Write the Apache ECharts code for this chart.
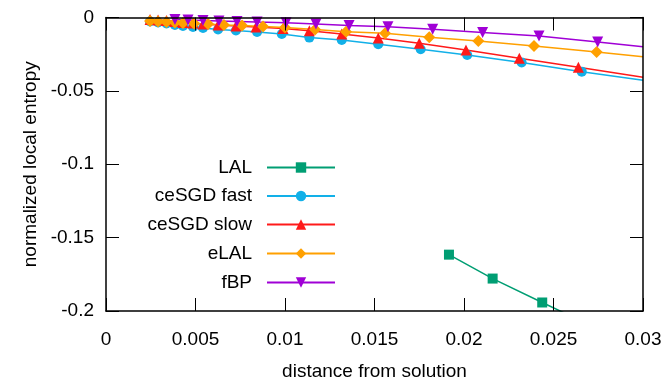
<!DOCTYPE html>
<html>
<head>
<meta charset="utf-8">
<script src="https://cdn.jsdelivr.net/npm/echarts@6/dist/echarts.min.js"></script>
<style>
  html, body { margin: 0; padding: 0; background: #fff; overflow: hidden; }
  #chart { width: 664px; height: 381px; }
</style>
</head>
<body>
<div id="chart"></div>
<script>
// 数据
const seriesNames = ['LAL', 'ceSGD fast', 'ceSGD slow', 'eLAL', 'fBP'];

const lalX = [0.01916, 0.0216, 0.02437, 0.0271];
const lalY = [-0.1616, -0.1779, -0.1942, -0.21];

const fastX = [0.00246, 0.00291, 0.00338, 0.00385, 0.0043, 0.00486, 0.00542, 0.00626, 0.00726, 0.00844,
  0.00982, 0.01136, 0.01317, 0.01521, 0.01758, 0.02018, 0.02322, 0.02658, 0.03];
const fastY = [-0.0027, -0.0034, -0.0041, -0.0051, -0.0058, -0.0065, -0.0071, -0.0082, -0.0088, -0.0099,
  -0.0112, -0.0137, -0.0153, -0.0182, -0.0216, -0.0255, -0.0307, -0.0369, -0.0427];

const slowX = [0.00246, 0.00291, 0.00338, 0.00385, 0.0043, 0.00486, 0.00542, 0.00626, 0.00726, 0.00838,
  0.00989, 0.01136, 0.01317, 0.01521, 0.0175, 0.02011, 0.02309, 0.02639, 0.03];
const slowY = [-0.0014, -0.0017, -0.002, -0.0027, -0.0034, -0.0037, -0.0044, -0.0051, -0.0058, -0.0065,
  -0.0075, -0.009, -0.0112, -0.0139, -0.0176, -0.0221, -0.0278, -0.0339, -0.0407];

const elalX = [0.00246, 0.00291, 0.00338, 0.00385, 0.0043, 0.00492, 0.0057, 0.00659, 0.0076, 0.00877,
  0.01, 0.01168, 0.01341, 0.01559, 0.01806, 0.0208, 0.02391, 0.02741, 0.03];
const elalY = [-0.0024, -0.0027, -0.0031, -0.0034, -0.0037, -0.0041, -0.0044, -0.0051, -0.0054, -0.0061,
  -0.0068, -0.0082, -0.0097, -0.0107, -0.0135, -0.016, -0.0194, -0.0235, -0.0267];

const fbpX = [0.00385, 0.00458, 0.00542, 0.00631, 0.00732, 0.00844, 0.01006, 0.01173, 0.01358, 0.01575,
  0.01825, 0.02104, 0.02419, 0.02747, 0.03];
const fbpY = [-0.0014, -0.0017, -0.002, -0.0024, -0.0027, -0.0031, -0.0035, -0.0044, -0.0054, -0.0063,
  -0.008, -0.0103, -0.0126, -0.0167, -0.0199];

// 最后一个点只画线不画标记（曲线延伸到边框）
const markedCount = [3, 18, 18, 18, 14];

const xTicks = [0, 0.005, 0.01, 0.015, 0.02, 0.025, 0.03];
const yTicks = [-0.2, -0.15, -0.1, -0.05, 0];

const FONT = 'Liberation Sans, Arial, sans-serif';
const colors = ['#009e73', '#12b0e8', '#ff1a1a', '#ffa000', '#a000d6'];
const symbols = ['rect', 'circle', 'triangle', 'diamond', 'triangle'];
const symbolSizes = [10, 10, 11, 12, 11];
const rotations = [0, 0, 0, 0, 180];
const xs = [lalX, fastX, slowX, elalX, fbpX];
const ys = [lalY, fastY, slowY, elalY, fbpY];

const chart = echarts.init(document.getElementById('chart'), null, { renderer: 'canvas' });

const series = seriesNames.map((name, i) => ({
  name,
  type: 'line',
  z: 3,
  symbol: symbols[i],
  symbolSize: symbolSizes[i],
  symbolRotate: rotations[i],
  lineStyle: { width: 1.5, color: colors[i] },
  itemStyle: { color: colors[i] },
  data: xs[i].map((x, k) => (k < markedCount[i]
    ? [x, ys[i][k]]
    : { value: [x, ys[i][k]], symbol: 'none' })),
}));

// 每个图例单独放，右对齐（文字在左，图标在右）
const legendCenters = [166, 194.5, 223, 252, 281];
const legends = seriesNames.map((name, i) => ({
  data: [name],
  z: 1,
  orient: 'vertical',
  align: 'right',
  right: 328,
  top: legendCenters[i] - 8,
  padding: 0,
  itemWidth: 68,
  itemHeight: 13,
  selectedMode: false,
  textStyle: { fontSize: 19, fontFamily: FONT, color: '#000', padding: [0, 10, 0, 0] },
}));

// 四边都有向内的刻度（gnuplot 风格）
function axisLine() {
  return { show: true, onZero: false, lineStyle: { color: '#000', width: 1.5 } };
}
function axisTick() {
  return { show: true, inside: true, length: 13, lineStyle: { color: '#000', width: 1 } };
}

chart.setOption({
  animation: false,
  grid: {
    left: 106, right: 21, top: 17.5, bottom: 70,
    outerBoundsMode: 'none',
  },
  legend: legends,
  xAxis: [
    {
      type: 'value',
      z: 10,
      min: xTicks[0],
      max: xTicks[xTicks.length - 1],
      interval: 0.005,
      name: 'distance from solution',
      nameLocation: 'middle',
      nameGap: 51,
      nameTextStyle: { fontSize: 19, fontFamily: FONT, color: '#000' },
      axisLine: axisLine(),
      axisTick: axisTick(),
      axisLabel: { fontSize: 19, fontFamily: FONT, color: '#000', margin: 19 },
      splitLine: { show: false },
    },
    {
      type: 'value',
      z: 10,
      min: xTicks[0],
      max: xTicks[xTicks.length - 1],
      interval: 0.005,
      position: 'top',
      axisLine: axisLine(),
      axisTick: axisTick(),
      axisLabel: { show: false },
      splitLine: { show: false },
    },
  ],
  yAxis: [
    {
      type: 'value',
      z: 10,
      min: yTicks[0],
      max: yTicks[yTicks.length - 1],
      interval: 0.05,
      name: 'normalized local entropy',
      nameLocation: 'middle',
      nameGap: 63,
      nameTextStyle: { fontSize: 19, fontFamily: FONT, color: '#000' },
      axisLine: axisLine(),
      axisTick: axisTick(),
      axisLabel: { fontSize: 19, fontFamily: FONT, color: '#000', margin: 12 },
      splitLine: { show: false },
    },
    {
      type: 'value',
      z: 10,
      min: yTicks[0],
      max: yTicks[yTicks.length - 1],
      interval: 0.05,
      position: 'right',
      axisLine: axisLine(),
      axisTick: axisTick(),
      axisLabel: { show: false },
      splitLine: { show: false },
    },
  ],
  series,
});
</script>
</body>
</html>
